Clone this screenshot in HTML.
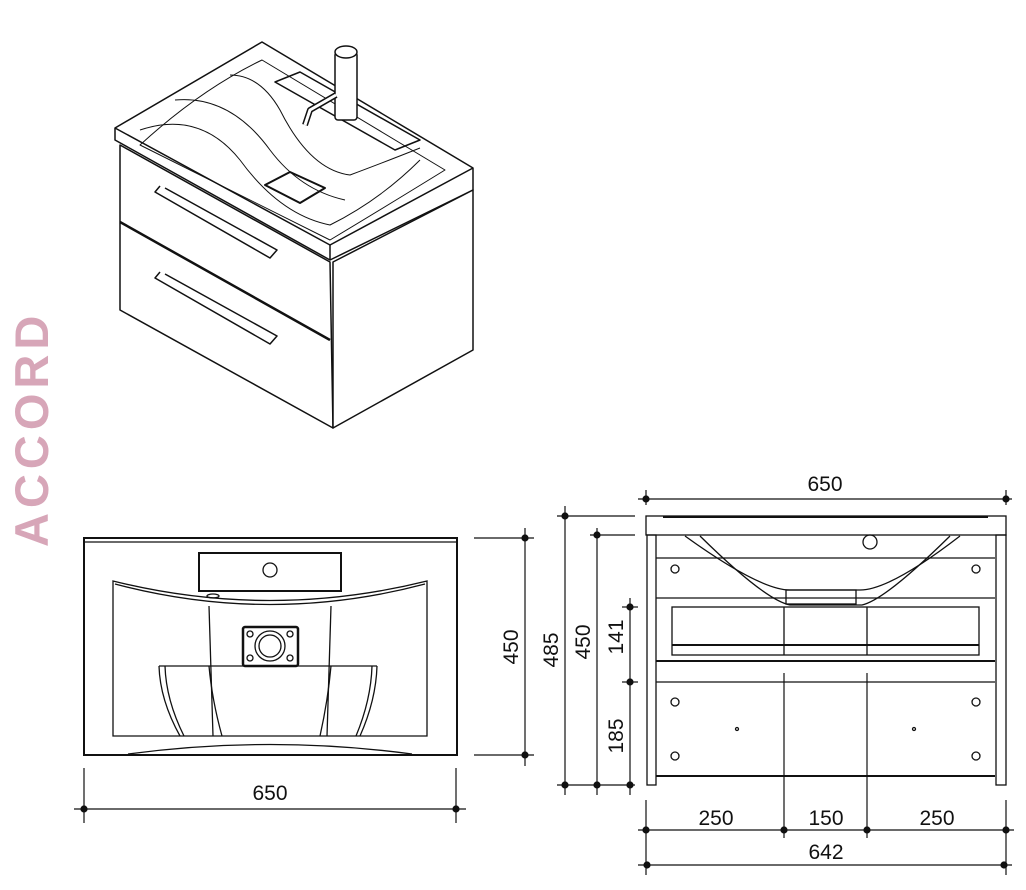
<!DOCTYPE html>
<html><head><meta charset="utf-8"><style>
html,body{margin:0;padding:0;background:#fff;width:1026px;height:890px;overflow:hidden}
text{font-family:"Liberation Sans",sans-serif;fill:#111}
</style></head><body>
<svg width="1026" height="890" viewBox="0 0 1026 890" xmlns="http://www.w3.org/2000/svg">
<text transform="translate(48,547) rotate(-90)" style="font-size:47px;font-weight:bold;fill:#d7a6b8;letter-spacing:5px">ACCORD</text>

<!-- Isometric view -->
<g fill="none" stroke="#111" stroke-width="1.5" stroke-linejoin="round">
<polygon points="115,128 262,42 473,168 473,190 330,260 115,140" fill="#fff"/>
<polyline points="115,128 330,245 473,168"/>
<line x1="330" y1="245" x2="330" y2="260"/>
<polygon points="120,145 330,262 333,428 120,310" fill="#fff"/>
<polygon points="333,262 473,190 473,350 333,428" fill="#fff"/>
<path d="M120,222 Q125,225 330,340" stroke-width="2.5"/>
<path d="M140,145 Q200,90 262,60 L445,170 Q380,210 330,240 Z" stroke-width="1"/>
<path d="M140,130 Q200,110 240,160 Q280,215 330,225 Q380,200 420,160" stroke-width="1"/>
<path d="M175,100 Q230,95 270,150 Q300,190 345,200" stroke-width="1"/>
<path d="M230,75 Q260,75 280,110 Q310,170 350,175 Q390,160 420,148" stroke-width="1"/>
<polygon points="265,185 290,172 325,188 300,203" stroke-width="2"/>
<polygon points="275,82 300,72 420,140 395,150" stroke-width="1.5"/>
<rect x="335" y="52" width="22" height="68" rx="3" fill="#fff"/>
<ellipse cx="346" cy="52" rx="11" ry="6" fill="#fff"/>
<path d="M336,95 L310,110 L305,125" stroke-width="6"/>
<path d="M336,95 L310,110 L305,125" stroke="#fff" stroke-width="3"/>
<polyline points="160,186 155,192 270,258 277,250 165,188" stroke-width="1.5"/>
<polyline points="160,272 155,278 270,344 277,336 165,274" stroke-width="1.5"/>
</g>

<!-- Top view -->
<g fill="none" stroke="#111" stroke-width="1.3">
<rect x="84" y="538" width="373" height="217" stroke-width="2"/>
<line x1="84" y1="542" x2="457" y2="542"/>
<rect x="199" y="553" width="142" height="38" stroke-width="2"/>
<circle cx="270" cy="570" r="7"/>
<path d="M113,581 Q270,620 427,581 L427,736 L113,736 Z"/>
<path d="M115,584 Q270,625 425,584"/>
<ellipse cx="213" cy="596" rx="6" ry="2"/>
<line x1="209" y1="606" x2="213" y2="736"/>
<line x1="331" y1="606" x2="327" y2="736"/>
<path d="M159,666 L377,666"/>
<path d="M159,666 Q160,700 180,736 M165,666 Q166,700 184,736"/>
<path d="M377,666 Q376,700 360,736 M372,666 Q371,700 356,736"/>
<path d="M209,666 Q212,700 222,736 M331,666 Q328,700 320,736"/>
<path d="M128,754 Q270,735 412,754"/>
<rect x="243" y="627" width="55" height="39" rx="2" stroke-width="2.5"/>
<circle cx="270" cy="646" r="15"/><circle cx="270" cy="646" r="11"/>
<circle cx="250" cy="634" r="3"/><circle cx="290" cy="634" r="3"/>
<circle cx="250" cy="658" r="3"/><circle cx="290" cy="658" r="3"/>
</g>
<g stroke="#111" stroke-width="1.2" fill="#111">
<line x1="474" y1="538" x2="534" y2="538"/><line x1="474" y1="755" x2="534" y2="755"/>
<line x1="525" y1="528" x2="525" y2="766"/>
<circle cx="525" cy="538" r="3"/><circle cx="525" cy="755" r="3"/>
<line x1="84" y1="768" x2="84" y2="823"/><line x1="456" y1="768" x2="456" y2="823"/>
<line x1="74" y1="809" x2="466" y2="809"/>
<circle cx="84" cy="809" r="3"/><circle cx="456" cy="809" r="3"/>
</g>
<text x="270" y="800" text-anchor="middle" style="font-size:21px">650</text>
<text transform="translate(518,647) rotate(-90)" text-anchor="middle" style="font-size:21px">450</text>

<!-- Front view -->
<g fill="none" stroke="#111" stroke-width="1.3">
<rect x="646" y="516" width="360" height="19"/>
<line x1="663" y1="517" x2="988" y2="517" stroke-width="2"/>
<rect x="647" y="535" width="9" height="250"/>
<rect x="996" y="535" width="10" height="250"/>
<line x1="656" y1="558" x2="995" y2="558"/>
<line x1="656" y1="598" x2="995" y2="598"/>
<line x1="656" y1="661" x2="995" y2="661" stroke-width="2"/>
<line x1="656" y1="682" x2="995" y2="682"/>
<line x1="656" y1="776" x2="995" y2="776" stroke-width="2"/>
<rect x="672" y="607" width="307" height="48"/>
<line x1="672" y1="645" x2="979" y2="645" stroke-width="2"/>
<line x1="784" y1="607" x2="784" y2="655"/><line x1="867" y1="607" x2="867" y2="655"/>
<path d="M685,536 Q760,590 790,590 L860,590 Q890,590 960,536"/>
<path d="M700,536 Q765,600 790,605 L862,605 Q885,600 950,536"/>
<rect x="786" y="590" width="70" height="14"/>
<circle cx="870" cy="542" r="7"/>
<circle cx="675" cy="569" r="4"/><circle cx="976" cy="569" r="4"/>
<circle cx="675" cy="702" r="4"/><circle cx="976" cy="702" r="4"/>
<circle cx="675" cy="756" r="4"/><circle cx="976" cy="756" r="4"/>
<circle cx="737" cy="729" r="1.5"/><circle cx="914" cy="729" r="1.5"/>
</g>
<g stroke="#111" stroke-width="1.2" fill="#111">
<line x1="784" y1="673" x2="784" y2="838"/><line x1="867" y1="673" x2="867" y2="838"/>
<line x1="646" y1="490" x2="646" y2="505"/><line x1="1006" y1="490" x2="1006" y2="505"/>
<line x1="638" y1="499" x2="1012" y2="499"/>
<circle cx="646" cy="499" r="3"/><circle cx="1006" cy="499" r="3"/>
<line x1="557" y1="516" x2="635" y2="516"/>
<line x1="590" y1="535" x2="635" y2="535"/>
<line x1="557" y1="785" x2="635" y2="785"/>
<line x1="565" y1="506" x2="565" y2="795"/>
<line x1="597" y1="528" x2="597" y2="795"/>
<line x1="630" y1="598" x2="630" y2="795"/>
<line x1="622" y1="607" x2="638" y2="607"/><line x1="622" y1="682" x2="638" y2="682"/>
<circle cx="565" cy="516" r="3"/><circle cx="565" cy="785" r="3"/>
<circle cx="597" cy="535" r="3"/><circle cx="597" cy="785" r="3"/>
<circle cx="630" cy="607" r="3"/><circle cx="630" cy="682" r="3"/><circle cx="630" cy="785" r="3"/>
<line x1="646" y1="800" x2="646" y2="875"/><line x1="1006" y1="800" x2="1006" y2="875"/>
<line x1="638" y1="830" x2="1014" y2="830"/>
<circle cx="646" cy="830" r="3"/><circle cx="784" cy="830" r="3"/><circle cx="867" cy="830" r="3"/><circle cx="1006" cy="830" r="3"/>
<line x1="638" y1="865" x2="1012" y2="865"/>
<circle cx="647" cy="865" r="3"/><circle cx="1004" cy="865" r="3"/>
</g>
<text x="825" y="491" text-anchor="middle" style="font-size:21px">650</text>
<text x="716" y="825" text-anchor="middle" style="font-size:21px">250</text>
<text x="826" y="825" text-anchor="middle" style="font-size:21px">150</text>
<text x="937" y="825" text-anchor="middle" style="font-size:21px">250</text>
<text x="826" y="859" text-anchor="middle" style="font-size:21px">642</text>
<text transform="translate(558,650) rotate(-90)" text-anchor="middle" style="font-size:21px">485</text>
<text transform="translate(590,642) rotate(-90)" text-anchor="middle" style="font-size:21px">450</text>
<text transform="translate(623,637) rotate(-90)" text-anchor="middle" style="font-size:21px">141</text>
<text transform="translate(623,736) rotate(-90)" text-anchor="middle" style="font-size:21px">185</text>
</svg>
</body></html>
